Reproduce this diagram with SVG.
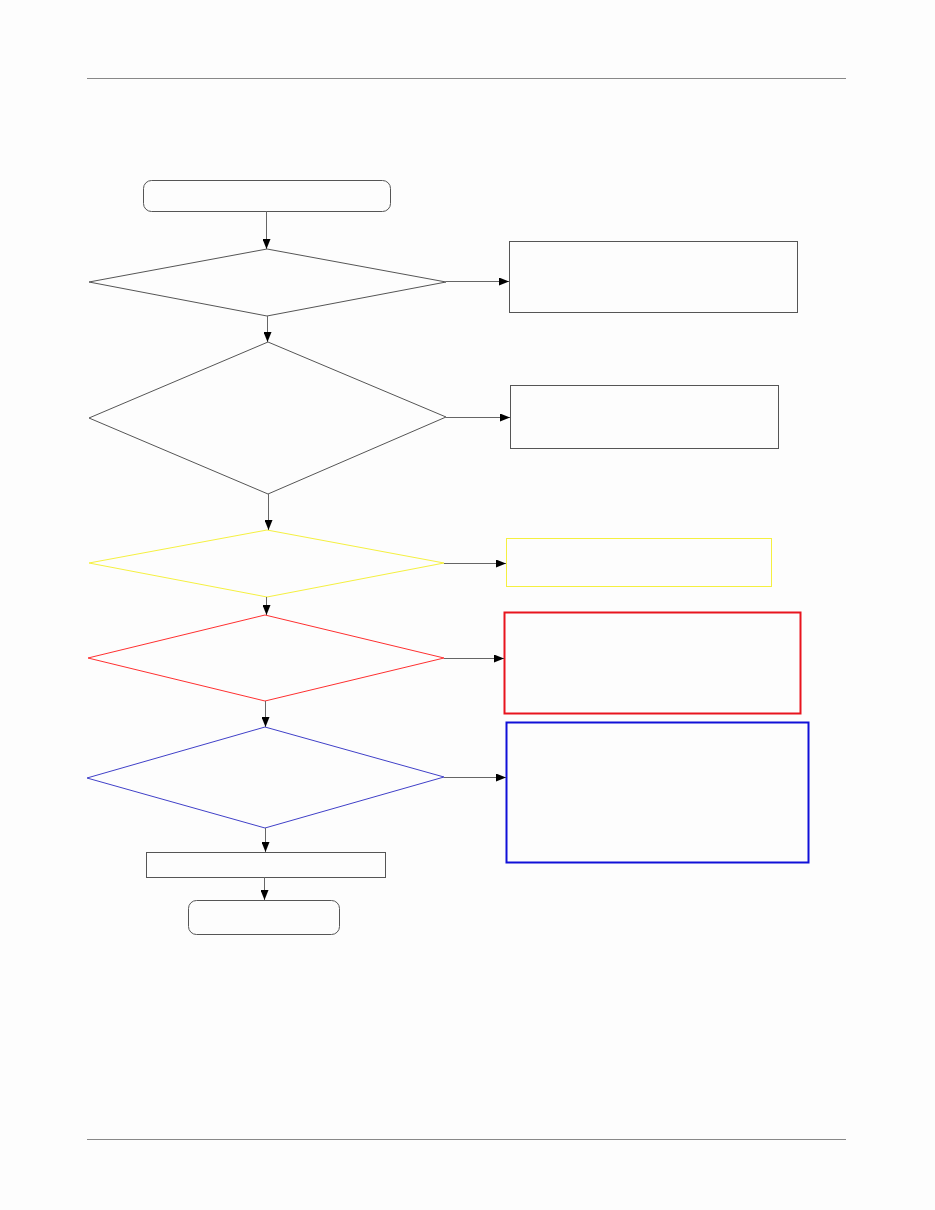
<svg xmlns="http://www.w3.org/2000/svg" width="935" height="1210" viewBox="0 0 935 1210">
<style>
.s{fill:none;stroke:#555;stroke-width:1}
.n{fill:none;stroke:#555;stroke-width:1}
.y{fill:none;stroke:#f5f040;stroke-width:1}
.r{fill:none;stroke:#ff3030;stroke-width:1}
.b{fill:none;stroke:#4040c8;stroke-width:1}
.rt{fill:none;stroke:#e8141e;stroke-width:2}
.bt{fill:none;stroke:#1010d8;stroke-width:2}
.c{fill:none;stroke:#666;stroke-width:1;marker-end:url(#ah)}
.rule{stroke:#888;stroke-width:1}
</style>
<defs>
<marker id="ah" markerWidth="10" markerHeight="8" refX="10" refY="4" orient="auto" markerUnits="userSpaceOnUse">
<path d="M0,0 L10,4 L0,8 Z" fill="#000"/>
</marker>
</defs>
<rect width="935" height="1210" fill="#fdfdfd"/>
<line class="rule" x1="87" y1="78.5" x2="846" y2="78.5"/>
<line class="rule" x1="87" y1="1139.5" x2="846" y2="1139.5"/>
<g id="start"><rect class="n" x="143.5" y="180.5" width="247" height="31" rx="8"/></g>
<g id="d1"><polygon class="n" points="267,249 446,282 267,316 89,282"/></g>
<g id="b1"><rect class="n" x="509.5" y="241.5" width="288" height="71"/></g>
<g id="d2"><polygon class="n" points="268,342 446,417 268,494 89,418"/></g>
<g id="b2"><rect class="n" x="510.5" y="385.5" width="268" height="63"/></g>
<g id="d3"><polygon class="y" points="267,530 444,563 267,597 89,563"/></g>
<g id="b3"><rect class="y" x="506.5" y="538.5" width="265" height="48"/></g>
<g id="d4"><polygon class="r" points="265,615 444,658 265,701 88,658"/></g>
<g id="b4"><rect class="rt" x="504.5" y="612.5" width="296" height="101"/></g>
<g id="d5"><polygon class="b" points="265,727 444,777 265,828 87,778"/></g>
<g id="b5"><rect class="bt" x="506.5" y="722.5" width="302" height="140"/></g>
<g id="p1"><rect class="n" x="146.5" y="852.5" width="239" height="25"/></g>
<g id="end"><rect class="n" x="188.5" y="900.5" width="151" height="34" rx="8"/></g>
<g id="connectors">
<line class="c" x1="266.5" y1="211" x2="266.5" y2="249"/>
<line class="c" x1="446" y1="281.5" x2="509" y2="281.5"/>
<line class="c" x1="267.5" y1="316" x2="267.5" y2="342"/>
<line class="c" x1="446" y1="417.5" x2="510" y2="417.5"/>
<line class="c" x1="268.5" y1="494" x2="268.5" y2="530"/>
<line class="c" x1="444" y1="563.5" x2="506" y2="563.5"/>
<line class="c" x1="266.5" y1="597" x2="266.5" y2="615"/>
<line class="c" x1="444" y1="658.5" x2="504" y2="658.5"/>
<line class="c" x1="265.5" y1="701" x2="265.5" y2="727"/>
<line class="c" x1="444" y1="777.5" x2="506" y2="777.5"/>
<line class="c" x1="265.5" y1="828" x2="265.5" y2="852"/>
<line class="c" x1="264.5" y1="877" x2="264.5" y2="900"/>
</g>
</svg>
